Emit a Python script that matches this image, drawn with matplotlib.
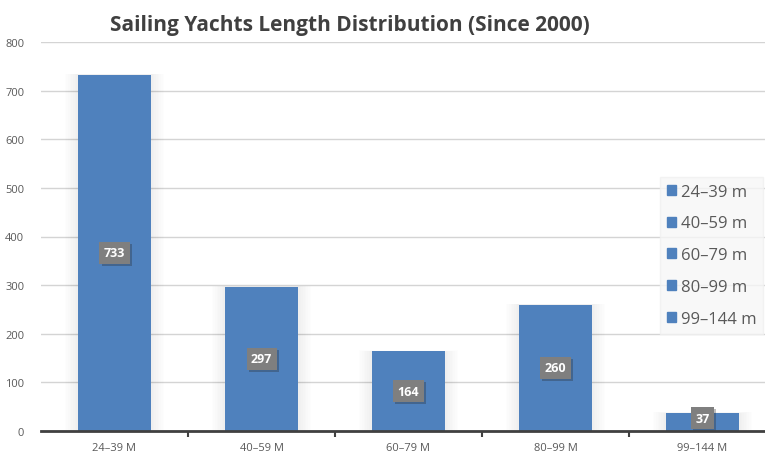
import numpy as np
import matplotlib.pyplot as plt
from matplotlib.patches import Patch, Rectangle
import matplotlib.patheffects as pe

plt.rcParams['font.family'] = ['Open Sans', 'DejaVu Sans']

categories = ['24–39 M', '40–59 M', '60–79 M', '80–99 M', '99–144 M']
legend_labels = ['24–39 m', '40–59 m', '60–79 m', '80–99 m', '99–144 m']
counts = [733, 297, 164, 260, 37]

blue = '#4f81bd'

fig = plt.figure(figsize=(7.65, 4.56), dpi=100)
ax = fig.add_axes([41/765, 24/456, 735/765, 389/456])

x = np.arange(len(categories))

# soft shadow around each bar
for xi, v in zip(x, counts):
    for k in range(1, 9):
        pad = 0.011 * k
        ax.add_patch(Rectangle((xi - 0.25 - pad, 0), 0.5 + 2*pad, v + pad*20,
                               color='black', alpha=0.009, lw=0, zorder=1.5))

ax.bar(x, counts, width=0.5, color=blue, zorder=2)

for xi, v in zip(x, counts):
    ypos = v / 2 if v > 100 else v / 2 + 8
    ax.text(xi, ypos, str(v), ha='center', va='center', color='white',
            fontsize=9, fontweight='bold', zorder=4,
            bbox=dict(boxstyle='square,pad=0.35', fc='#7f7f7f', ec='none',
                      path_effects=[pe.withSimplePatchShadow(offset=(1.5, -1.5), alpha=0.3)]))

ax.set_xlim(-0.5, 4.5)
ax.set_ylim(0, 800)
ax.set_yticks(range(0, 801, 100))
ax.set_xticks(x)
ax.set_xticklabels(categories)
ax.set_xticks(np.arange(0.5, 4.5, 1), minor=True)
ax.tick_params(axis='x', which='major', length=0, pad=8, labelsize=8, labelcolor='#595959')
ax.tick_params(axis='x', which='minor', length=4, width=1.5, color='#404040', direction='out')
ax.tick_params(axis='y', length=0, labelsize=8, labelcolor='#595959', pad=12)
ax.grid(axis='y', color='#d4d4d4', lw=1, zorder=0)
ax.set_axisbelow(True)
for s in ['top', 'right', 'left']:
    ax.spines[s].set_visible(False)
ax.spines['bottom'].set_color('#404040')
ax.spines['bottom'].set_linewidth(2)
ax.spines['bottom'].set_zorder(5)

fig.text(0.457, 0.945, 'Sailing Yachts Length Distribution (Since 2000)',
         ha='center', va='center', fontsize=15, fontweight='bold', color='#404040')

handles = [Patch(color=blue) for _ in legend_labels]
leg = fig.legend(handles, legend_labels, loc='upper left',
                 bbox_to_anchor=(660/765, 1 - 178/456), fontsize=12,
                 frameon=True, fancybox=False, shadow=False,
                 handlelength=0.55, handleheight=0.55, handletextpad=0.3,
                 labelspacing=0.95, borderpad=0.4, borderaxespad=0)
leg.get_frame().set_facecolor('#f7f7f7')
leg.get_frame().set_edgecolor('#f0f0f0')
for t in leg.get_texts():
    t.set_color('#595959')

fig.savefig('out.png', dpi=100)
